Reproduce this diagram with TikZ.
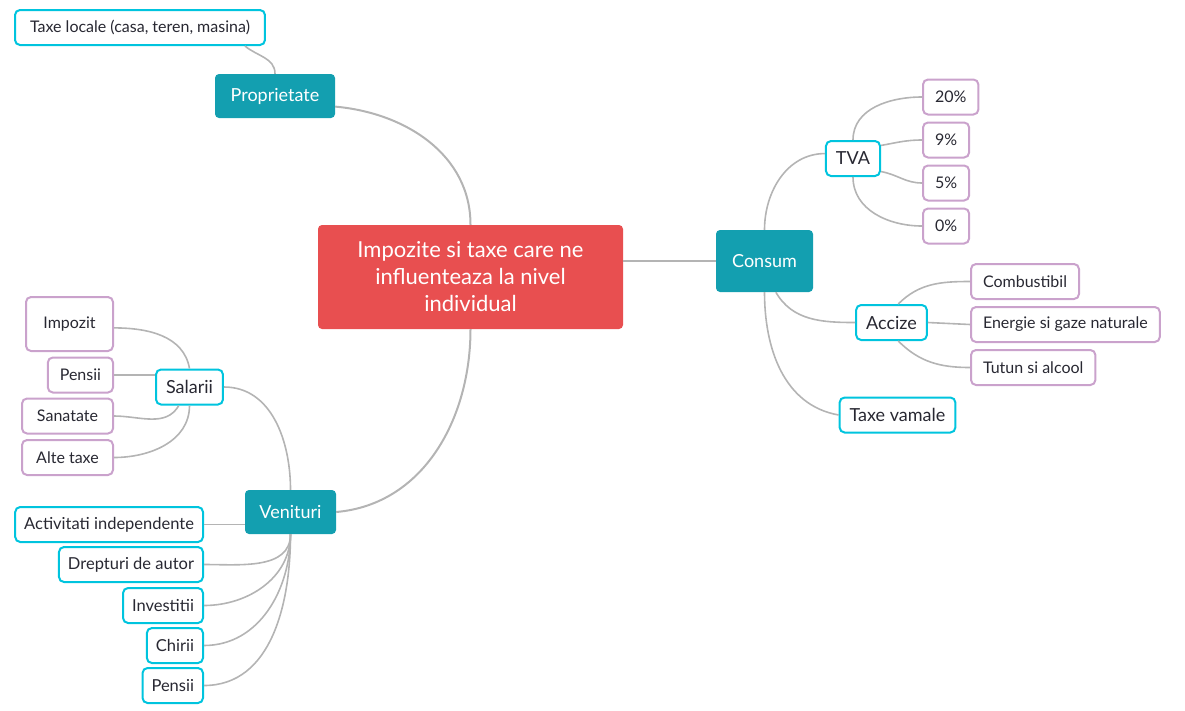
\documentclass[tikz,border=0pt]{standalone}
\usepackage{fontspec}
\setmainfont{Lato}
\usepackage{tikz}
\usetikzlibrary{shapes}
\definecolor{topicred}{RGB}{232,79,80}
\definecolor{branchteal}{RGB}{19,159,176}
\definecolor{subcyan}{RGB}{0,196,222}
\definecolor{leafpurple}{RGB}{202,162,204}
\definecolor{linkgray}{RGB}{180,180,180}
\definecolor{textdark}{RGB}{40,40,50}
\tikzset{ main_topic/.style = {rectangle, rounded corners=4pt, fill=topicred, text=white, align=center, minimum width=305pt, minimum height=104pt, font=\fontsize{22}{27}\selectfont} }
\tikzset{ branch/.style = {rectangle, rounded corners=4pt, fill=branchteal, text=white, minimum height=44pt, font=\fontsize{18}{21}\selectfont} }
\tikzset{ sub_topic/.style = {rectangle, rounded corners=5pt, draw=subcyan, line width=2pt, fill=white, text=textdark, minimum height=35pt, inner xsep=10pt, font=\fontsize{18}{21}\selectfont} }
\tikzset{ income_item/.style = {style=sub_topic, inner xsep=9pt, anchor=east, font=\fontsize{16.5}{20}\selectfont} }
\tikzset{ leaf/.style = {rectangle, rounded corners=5pt, draw=leafpurple, line width=2pt, fill=white, text=textdark, minimum height=35pt, inner xsep=12pt, font=\fontsize{16}{19}\selectfont} }
\tikzset{ link/.style = {draw=linkgray, line width=2pt} }
\tikzset{ sublink/.style = {draw=linkgray, line width=1.6pt} }

\begin{document}
\begin{tikzpicture}[x=1pt,y=-1pt]
            \useasboundingbox (0,0) rectangle (1185,710);
            \node [style=main_topic] (C) at (470.5,277) {Impozite si taxe care ne\\influenteaza la nivel\\individual};
            \node [style=branch, minimum width=120pt] (P) at (275,96) {Proprietate};
            \node [style=branch, minimum width=97pt, minimum height=62pt] (Co) at (764.5,261) {Consum};
            \node [style=branch, minimum width=91pt] (V) at (290.5,512) {Venituri};
            % proprietate
            \node [style=sub_topic, font=\fontsize{16}{19}\selectfont, inner xsep=15pt, anchor=west] (TL) at (14,27.5) {Taxe locale (casa, teren, masina)};
            % consum
            \node [style=sub_topic] (TVA) at (853,158.5) {TVA};
            \node [style=sub_topic] (Acc) at (891.5,322.5) {Accize};
            \node [style=sub_topic] (TV) at (897.5,415) {Taxe vamale};
            \node [style=leaf, anchor=west] (p20) at (922,97) {20\%};
            \node [style=leaf, anchor=west] (p9) at (922,140) {9\%};
            \node [style=leaf, anchor=west] (p5) at (922,183) {5\%};
            \node [style=leaf, anchor=west] (p0) at (922,226) {0\%};
            \node [style=leaf, anchor=west] (Cb) at (970,281.5) {Combustibil};
            \node [style=leaf, anchor=west] (En) at (970,324.5) {Energie si gaze naturale};
            \node [style=leaf, anchor=west] (Tt) at (970,367.5) {Tutun si alcool};
            % venituri
            \node [style=sub_topic] (Sal) at (189.5,387) {Salarii};
            \node [style=leaf, minimum height=54pt, minimum width=87pt, anchor=east] (Imp) at (114,324) {Impozit};
            \node [style=leaf, anchor=east] (PenS) at (114,375) {Pensii};
            \node [style=leaf, minimum width=91pt, anchor=east] (San) at (114,416) {Sanatate};
            \node [style=leaf, minimum width=91pt, anchor=east] (Alt) at (114,457.5) {Alte taxe};
            \node [style=income_item] (Act) at (204,524.5) {Activitati independente};
            \node [style=income_item] (Dr) at (204,564.5) {Drepturi de autor};
            \node [style=income_item] (Inv) at (204,605.5) {Investitii};
            \node [style=income_item] (Chi) at (204,645.5) {Chirii};
            \node [style=income_item] (PenV) at (204,685.5) {Pensii};
            % connectors
            \draw[link] (C.north) to[out=90,in=-5] (P.-10);
            \draw[link] (C.south) to[out=-90,in=5] (V.east);
            \draw[link] (Co.west) -- (Co.west -| C.east);
            \draw[sublink] (P.north) to[out=90,in=-40] (TL.-10);
            \draw[sublink] (Co.north) to[out=90,in=180] (TVA.170);
            \draw[sublink] (Co.-70) to[out=-60,in=180] (Acc.west);
            \draw[sublink] (Co.south) to[out=-90,in=170] (TV.west);
            \draw[sublink] (TVA.north) to[out=90,in=180] (p20.west);
            \draw[sublink] (TVA.25) to[out=10,in=180] (p9.west);
            \draw[sublink] (TVA.-25) to[out=-10,in=180] (p5.west);
            \draw[sublink] (TVA.south) to[out=-90,in=180] (p0.west);
            \draw[sublink] (Acc.70) to[out=45,in=180] (Cb.west);
            \draw[sublink] (Acc.east) -- (En.west);
            \draw[sublink] (Acc.-70) to[out=-45,in=180] (Tt.west);
            \draw[sublink] (Sal.north) to[out=100,in=0] (Imp.-5);
            \draw[sublink] (PenS.east) -- (PenS.east -| Sal.west);
            \draw[sublink] (Sal.-120) to[out=-120,in=0] (San.east);
            \draw[sublink] (Sal.south) to[out=-90,in=0] (Alt.east);
            \draw[sublink] (Sal.east) to[out=0,in=90] (V.north);
            \draw[sublink] (Act.east) -- (Act.east -| V.west);
            \foreach \n in {Dr,Inv,Chi,PenV}
                \draw[sublink] (V.south) to[out=-90,in=0] (\n.east);
       \end{tikzpicture}
\end{document}
